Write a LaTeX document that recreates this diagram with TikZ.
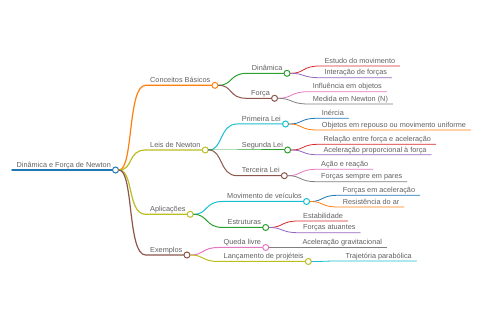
\documentclass[tikz,border=0pt]{standalone}
\usepackage{fontspec}
\setmainfont{Liberation Sans}
\usetikzlibrary{positioning}

\definecolor{mblue}{HTML}{1F77B4}
\definecolor{morange}{HTML}{FF7F0E}
\definecolor{mgreen}{HTML}{2CA02C}
\definecolor{mred}{HTML}{D62728}
\definecolor{mpurple}{HTML}{9467BD}
\definecolor{mbrown}{HTML}{8C564B}
\definecolor{mpink}{HTML}{E377C2}
\definecolor{mgrey}{HTML}{7F7F7F}
\definecolor{molive}{HTML}{BCBD22}
\definecolor{mcyan}{HTML}{17BECF}
\definecolor{txtgray}{HTML}{606060}

\begin{document}
\begin{tikzpicture}[
    x=1pt, y=-1pt,
    lbl/.style={anchor=south west, inner xsep=4.5pt, inner ysep=2.5pt, text depth=0pt,
                font=\fontsize{7.3}{8}\selectfont, text=txtgray},
    dot/.style={circle, draw=#1, fill=white, inner sep=0pt, minimum size=6pt, line width=1pt},
    lv0/.style={line width=1.5pt},
    lv1/.style={line width=1.2pt},
    lv2/.style={line width=1pt},
    lv3/.style={line width=0.8pt},
    link/.style={line cap=round}
]
\useasboundingbox (0,0) rectangle (480,320);

% root and first level
\node[lbl] (root) at (12,170) {Dinâmica e Força de Newton};
\node[lbl] (cb) at (145.5,85.3) {Conceitos Básicos};
\node[lbl] (leis) at (145.5,150) {Leis de Newton};
\node[lbl] (apl) at (145.5,214.3) {Aplicações};
\node[lbl] (exe) at (145.5,255) {Exemplos};

% second level
\node[lbl] (din) at (247.2,73.3) {Dinâmica};
\node[lbl] (forca) at (246.5,98.3) {Força};
\node[lbl] (pri) at (237.2,124) {Primeira Lei};
\node[lbl] (seg) at (237.2,150) {Segunda Lei};
\node[lbl] (ter) at (237.2,175.7) {Terceira Lei};
\node[lbl] (mov) at (222.5,201.5) {Movimento de veículos};
\node[lbl] (estr) at (223,227.5) {Estruturas};
\node[lbl] (que) at (219,247.5) {Queda livre};
\node[lbl] (lan) at (219,261.5) {Lançamento de projéteis};

% leaves
\node[lbl] (est) at (319.8,66) {Estudo do movimento};
\node[lbl] (inter) at (319.8,77.7) {Interação de forças};
\node[lbl] (infl) at (308.2,91.7) {Influência em objetos};
\node[lbl] (med) at (308.2,104) {Medida em Newton (N)};
\node[lbl] (ine) at (317.2,118.3) {Inércia};
\node[lbl] (obj) at (317.2,130) {Objetos em repouso ou movimento uniforme};
\node[lbl] (rel) at (318.8,144.3) {Relação entre força e aceleração};
\node[lbl] (acp) at (318.8,154.8) {Aceleração proporcional à força};
\node[lbl] (aca) at (316.5,169.3) {Ação e reação};
\node[lbl] (par) at (316.5,181.7) {Forças sempre em pares};
\node[lbl] (fac) at (338.2,195.3) {Forças em aceleração};
\node[lbl] (res) at (338.2,207) {Resistência do ar};
\node[lbl] (stab) at (298.5,221) {Estabilidade};
\node[lbl] (fat) at (298.5,232.7) {Forças atuantes};
\node[lbl] (grav) at (297.8,247.5) {Aceleração gravitacional};
\node[lbl] (tra) at (340.8,261) {Trajetória parabólica};

% dots at the end of each branch line
\node[dot=mblue] (rootd) at (root.south east) {};
\node[dot=morange] (cbd) at (cb.south east) {};
\node[dot=molive] (leisd) at (leis.south east) {};
\node[dot=molive] (apld) at (apl.south east) {};
\node[dot=mbrown] (exed) at (exe.south east) {};
\node[dot=mgreen] (dind) at (din.south east) {};
\node[dot=mbrown] (forcad) at (forca.south east) {};
\node[dot=mcyan] (prid) at (pri.south east) {};
\node[dot=mgreen] (segd) at (seg.south east) {};
\node[dot=mbrown] (terd) at (ter.south east) {};
\node[dot=mcyan] (movd) at (mov.south east) {};
\node[dot=mgreen] (estrd) at (estr.south east) {};
\node[dot=mpink] (qued) at (que.south east) {};
\node[dot=molive] (land) at (lan.south east) {};

% root line
\draw[link, lv0, mblue] (root.south west) -- (rootd);

% first level links
\draw[link, lv1, morange] (rootd) .. controls +(18,0) and +(-18,0) .. (cb.south west) -- (cbd);
\draw[link, lv1, molive] (rootd) .. controls +(18,0) and +(-18,0) .. (leis.south west) -- (leisd);
\draw[link, lv1, molive] (rootd) .. controls +(18,0) and +(-18,0) .. (apl.south west) -- (apld);
\draw[link, lv1, mbrown] (rootd) .. controls +(18,0) and +(-18,0) .. (exe.south west) -- (exed);

% second level links
\draw[link, lv2, mgreen] (cbd) .. controls +(18,0) and +(-18,0) .. (din.south west) -- (dind);
\draw[link, lv2, mbrown] (cbd) .. controls +(18,0) and +(-18,0) .. (forca.south west) -- (forcad);
\draw[link, lv2, mcyan] (leisd) .. controls +(18,0) and +(-18,0) .. (pri.south west) -- (prid);
\draw[link, lv2, mgreen] (leisd) .. controls +(18,0) and +(-18,0) .. (seg.south west) -- (segd);
\draw[link, lv2, mbrown] (leisd) .. controls +(18,0) and +(-18,0) .. (ter.south west) -- (terd);
\draw[link, lv2, mcyan] (apld) .. controls +(18,0) and +(-18,0) .. (mov.south west) -- (movd);
\draw[link, lv2, mgreen] (apld) .. controls +(18,0) and +(-18,0) .. (estr.south west) -- (estrd);
\draw[link, lv2, mpink] (exed) .. controls +(18,0) and +(-18,0) .. (que.south west) -- (qued);
\draw[link, lv2, molive] (exed) .. controls +(18,0) and +(-18,0) .. (lan.south west) -- (land);

% leaf links
\draw[link, lv3, mred] (dind) .. controls +(18,0) and +(-18,0) .. (est.south west) -- (est.south east);
\draw[link, lv3, mpurple] (dind) .. controls +(18,0) and +(-18,0) .. (inter.south west) -- (inter.south east);
\draw[link, lv3, mpink] (forcad) .. controls +(18,0) and +(-18,0) .. (infl.south west) -- (infl.south east);
\draw[link, lv3, mgrey] (forcad) .. controls +(18,0) and +(-18,0) .. (med.south west) -- (med.south east);
\draw[link, lv3, mblue] (prid) .. controls +(18,0) and +(-18,0) .. (ine.south west) -- (ine.south east);
\draw[link, lv3, morange] (prid) .. controls +(18,0) and +(-18,0) .. (obj.south west) -- (obj.south east);
\draw[link, lv3, mred] (segd) .. controls +(18,0) and +(-18,0) .. (rel.south west) -- (rel.south east);
\draw[link, lv3, mpurple] (segd) .. controls +(18,0) and +(-18,0) .. (acp.south west) -- (acp.south east);
\draw[link, lv3, mpink] (terd) .. controls +(18,0) and +(-18,0) .. (aca.south west) -- (aca.south east);
\draw[link, lv3, mgrey] (terd) .. controls +(18,0) and +(-18,0) .. (par.south west) -- (par.south east);
\draw[link, lv3, mblue] (movd) .. controls +(18,0) and +(-18,0) .. (fac.south west) -- (fac.south east);
\draw[link, lv3, morange] (movd) .. controls +(18,0) and +(-18,0) .. (res.south west) -- (res.south east);
\draw[link, lv3, mred] (estrd) .. controls +(18,0) and +(-18,0) .. (stab.south west) -- (stab.south east);
\draw[link, lv3, mpurple] (estrd) .. controls +(18,0) and +(-18,0) .. (fat.south west) -- (fat.south east);
\draw[link, lv3, mgrey] (qued) .. controls +(18,0) and +(-18,0) .. (grav.south west) -- (grav.south east);
\draw[link, lv3, mcyan] (land) .. controls +(18,0) and +(-18,0) .. (tra.south west) -- (tra.south east);
\end{tikzpicture}
\end{document}
